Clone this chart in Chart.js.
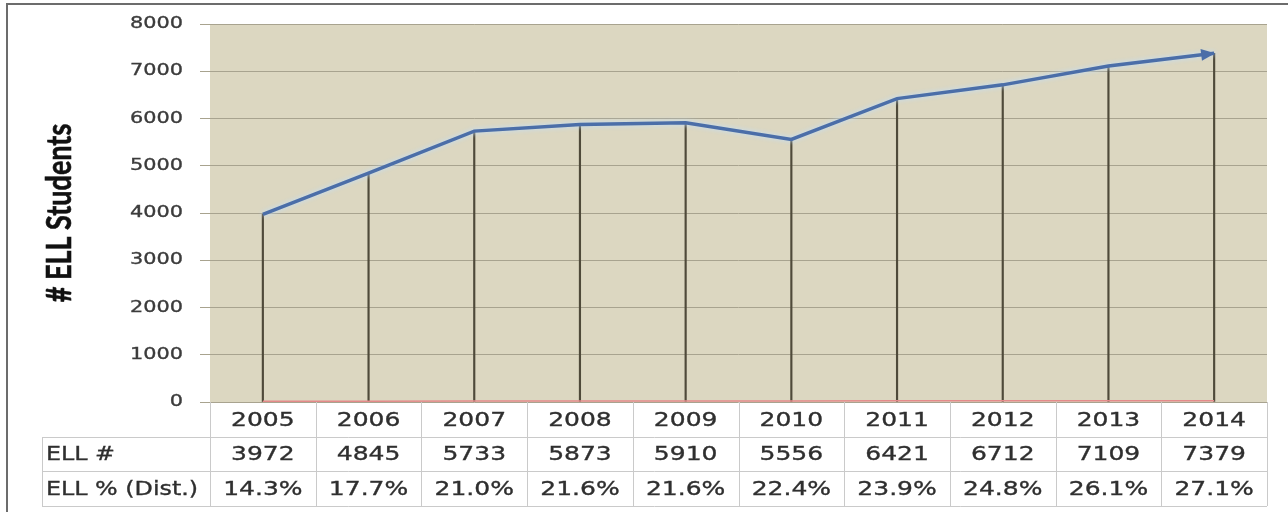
<!DOCTYPE html>
<html>
<head>
<meta charset="utf-8">
<script src="https://cdn.jsdelivr.net/npm/chart.js@4/dist/chart.umd.min.js"></script>
<style>
  html, body { margin: 0; padding: 0; background: #ffffff; }
  canvas { display: block; }
</style>
</head>
<body>
<canvas id="c" width="1288" height="512"></canvas>
<script>
// School years shown along the bottom of the chart and in the data table
const years = ['2005', '2006', '2007', '2008', '2009', '2010', '2011', '2012', '2013', '2014'];
// Number of English Language Learner students per year
const ellCounts = [3972, 4845, 5733, 5873, 5910, 5556, 6421, 6712, 7109, 7379];
// ELL share of the district enrolment, in percent
const ellPercent = [14.3, 17.7, 21.0, 21.6, 21.6, 22.4, 23.9, 24.8, 26.1, 27.1];
// Value axis ticks
const yTicks = [0, 1000, 2000, 3000, 4000, 5000, 6000, 7000, 8000];
// Table row headings and axis title
const rowLabels = ['ELL #', 'ELL % (Dist.)'];
const yTitle = '# ELL Students';

const TEXT_SX = 1.25;           // horizontal widening of table / tick text
const TEXT_COLOR = '#2f2f2f';

function wideText(ctx, text, x, y, align, font, color, sx) {
  ctx.save();
  ctx.font = font;
  ctx.fillStyle = color;
  ctx.strokeStyle = color;
  ctx.lineWidth = 0.35;
  ctx.textBaseline = 'middle';
  ctx.textAlign = 'left';
  const w = ctx.measureText(text).width * sx;
  const x0 = align === 'center' ? x - w / 2 : (align === 'right' ? x - w : x);
  ctx.translate(x0, y);
  ctx.scale(sx, 1);
  ctx.fillText(text, 0, 0);
  ctx.strokeText(text, 0, 0);
  ctx.restore();
}

// Tan plot background and outer frame
const backdrop = {
  id: 'backdrop',
  beforeDraw(chart) {
    const { ctx, chartArea: a } = chart;
    ctx.save();
    ctx.fillStyle = '#ffffff';
    ctx.fillRect(0, 0, chart.width, chart.height);
    ctx.fillStyle = '#dcd7c1';
    ctx.fillRect(a.left, a.top, a.right - a.left, a.bottom - a.top);
    ctx.restore();
  },
  afterDraw(chart) {
    const { ctx } = chart;
    ctx.save();
    ctx.strokeStyle = '#6c6c6c';
    ctx.lineWidth = 2;
    ctx.beginPath();
    ctx.moveTo(7, chart.height);
    ctx.lineTo(7, 4);
    ctx.lineTo(chart.width, 4);
    ctx.stroke();
    ctx.restore();
  }
};

// Soft halo behind the ELL count line
const lineGlow = {
  id: 'lineGlow',
  beforeDatasetDraw(chart, args) {
    if (args.index !== 0) return;
    const ctx = chart.ctx;
    ctx.save();
    ctx.shadowColor = 'rgba(190,222,255,0.95)';
    ctx.shadowBlur = 5;
  },
  afterDatasetDraw(chart, args) {
    if (args.index !== 0) return;
    chart.ctx.restore();
  }
};

// Arrow head at the end of the ELL count line
const arrowHead = {
  id: 'arrowHead',
  afterDatasetsDraw(chart) {
    const pts = chart.getDatasetMeta(0).data;
    const n = pts.length;
    const tip = pts[n - 1], prev = pts[n - 2];
    const ang = Math.atan2(tip.y - prev.y, tip.x - prev.x);
    const ctx = chart.ctx;
    ctx.save();
    ctx.translate(tip.x, tip.y);
    ctx.rotate(ang);
    ctx.fillStyle = '#4b6ea8';
    ctx.beginPath();
    ctx.moveTo(1, 0);
    ctx.lineTo(-13, -6);
    ctx.lineTo(-13, 6);
    ctx.closePath();
    ctx.fill();
    ctx.restore();
  }
};

// Value labels, axis title and the data table under the plot
const annotations = {
  id: 'annotations',
  afterDraw(chart) {
    const { ctx, chartArea: a } = chart;
    const xs = chart.scales.x, ys = chart.scales.y;

    yTicks.forEach(v => {
      wideText(ctx, String(v), a.left - 27, ys.getPixelForValue(v), 'right',
        '16px "DejaVu Sans"', '#3c3c3c', 1.3);
    });

    ctx.save();
    ctx.translate(60, (a.top + a.bottom) / 2);
    ctx.scale(1.25, 1);
    ctx.rotate(-Math.PI / 2);
    ctx.font = 'bold 27px Lato';
    ctx.fillStyle = '#111111';
    ctx.strokeStyle = '#111111';
    ctx.lineWidth = 0.5;
    ctx.textAlign = 'center';
    ctx.textBaseline = 'middle';
    ctx.fillText(yTitle, 0, 0);
    ctx.strokeText(yTitle, 0, 0);
    ctx.restore();

    const n = years.length;
    const band = (a.right - a.left) / n;
    const rowsY = [a.bottom, a.bottom + 35, a.bottom + 69, a.bottom + 104];
    const labelLeft = 42;

    ctx.save();
    ctx.strokeStyle = '#cacaca';
    ctx.lineWidth = 1;
    ctx.beginPath();
    for (let r = 1; r < rowsY.length; r++) {
      ctx.moveTo(labelLeft, Math.round(rowsY[r]) + 0.5);
      ctx.lineTo(a.right, Math.round(rowsY[r]) + 0.5);
    }
    ctx.moveTo(labelLeft + 0.5, rowsY[1]);
    ctx.lineTo(labelLeft + 0.5, rowsY[3]);
    for (let k = 0; k <= n; k++) {
      const x = Math.round(a.left + k * band) + 0.5;
      ctx.moveTo(x, rowsY[0]);
      ctx.lineTo(x, rowsY[3]);
    }
    ctx.stroke();
    ctx.restore();

    const font = '20px "DejaVu Sans"';
    const mid = r => (rowsY[r] + rowsY[r + 1]) / 2 + 1;
    years.forEach((y, i) => {
      const cx = xs.getPixelForValue(i);
      wideText(ctx, y, cx, mid(0), 'center', font, TEXT_COLOR, TEXT_SX);
      wideText(ctx, String(ellCounts[i]), cx, mid(1), 'center', font, TEXT_COLOR, TEXT_SX);
      wideText(ctx, ellPercent[i].toFixed(1) + '%', cx, mid(2), 'center', font, TEXT_COLOR, TEXT_SX);
    });
    wideText(ctx, rowLabels[0], labelLeft + 4, mid(1), 'left', font, TEXT_COLOR, 1.19);
    wideText(ctx, rowLabels[1], labelLeft + 4, mid(2), 'left', font, TEXT_COLOR, 1.19);
  }
};

new Chart(document.getElementById('c'), {
  type: 'bar',
  data: {
    labels: years,
    datasets: [
      {
        type: 'line',
        label: 'ELL #',
        data: ellCounts,
        borderColor: '#4b6ea8',
        borderWidth: 3.5,
        pointRadius: 0,
        tension: 0,
        order: 0
      },
      {
        type: 'line',
        label: 'ELL % (Dist.)',
        data: ellPercent,
        borderColor: '#e48a8a',
        borderWidth: 1.5,
        pointRadius: 0,
        tension: 0,
        order: 1
      },
      {
        type: 'bar',
        label: 'drop lines',
        data: ellCounts,
        backgroundColor: '#4f4a3a',
        barThickness: 1.5,
        order: 2
      }
    ]
  },
  options: {
    responsive: false,
    animation: false,
    devicePixelRatio: 1,
    layout: { padding: { left: 200, right: 21, top: 24, bottom: 110 } },
    plugins: { legend: { display: false }, tooltip: { enabled: false } },
    scales: {
      x: { display: false, offset: true },
      y: {
        min: 0,
        max: 8000,
        ticks: { stepSize: 1000, display: false },
        grid: { color: '#a8a38f', lineWidth: 1, tickLength: 10, drawTicks: true },
        border: { display: false }
      }
    }
  },
  plugins: [backdrop, lineGlow, arrowHead, annotations]
});
</script>
</body>
</html>
